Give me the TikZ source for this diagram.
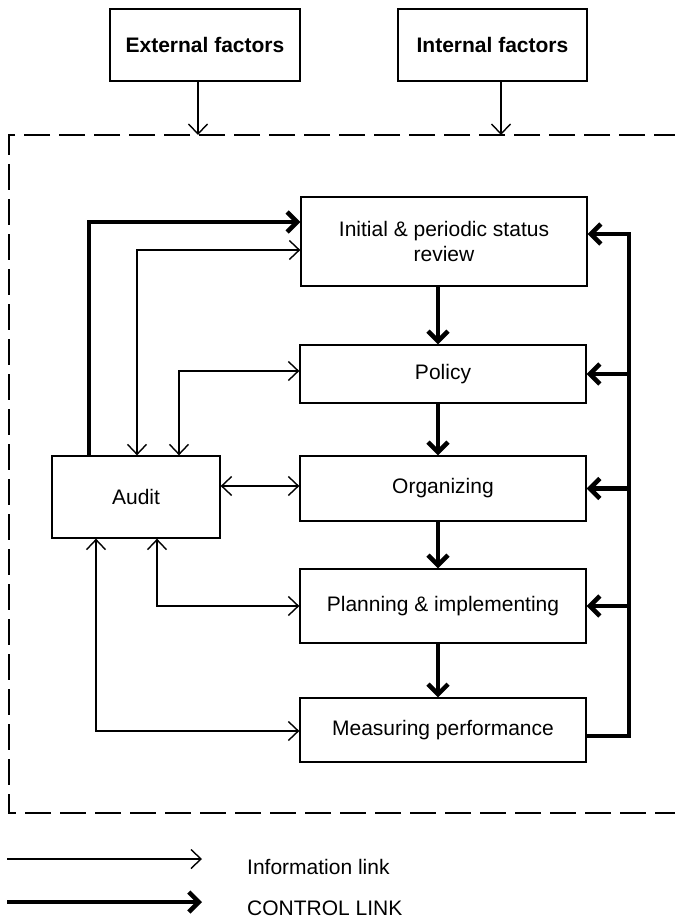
\documentclass[tikz,border=0pt]{standalone}
\usepackage{fontspec}
\setmainfont{Liberation Sans}
\usetikzlibrary{arrows.meta}

\begin{document}
\begin{tikzpicture}[x=1pt,y=-1pt,
  every node/.style={font=\fontsize{21}{25}\selectfont},
  box/.style={draw, line width=1.3pt, rectangle, align=center, inner sep=2pt},
  infotip/.tip={Straight Barb[length=10pt,width=19pt]},
  ctrltip/.tip={Straight Barb[length=10pt,width=20pt]},
  info/.style={line width=1.4pt, -infotip},
  twoway/.style={line width=1.4pt, infotip-infotip},
  ctrl/.style={line width=4.5pt, -ctrltip},
  ctrlline/.style={line width=4.5pt},
  frame/.style={line width=2pt, dash pattern=on 26pt off 9pt}
]
\useasboundingbox (0,0) rectangle (674,920);

% factor boxes above the boundary
\node[box, minimum width=190pt, minimum height=72pt, font=\fontsize{21}{25}\selectfont\bfseries] (ext) at (205,45) {External factors};
\node[box, minimum width=189pt, minimum height=72pt, font=\fontsize{21}{25}\selectfont\bfseries] (int) at (492.5,45) {Internal factors};

% organisational boundary (open to the right)
\draw[frame] (680,135) -- (9,135) -- (9,813) -- (680,813);
\coordinate (extin) at (198,135);
\coordinate (intin) at (501,135);
\draw[info] (ext.south -| extin) -- (extin);
\draw[info] (int.south -| intin) -- (intin);

% main chain
\node[box, minimum width=286pt, minimum height=89pt] (init) at (444,241.5) {Initial \& periodic status\\review};
\node[box, minimum width=286pt, minimum height=58pt] (policy) at (443,374) {Policy};
\node[box, minimum width=286pt, minimum height=65pt] (org) at (443,488.5) {Organizing};
\node[box, minimum width=286pt, minimum height=74pt] (plan) at (443,606) {Planning \& implementing};
\node[box, minimum width=286pt, minimum height=64pt] (meas) at (443,730) {Measuring performance};
\node[box, minimum width=168pt, minimum height=82pt] (audit) at (136,497) {Audit};

\coordinate (spine) at (438,0);
\draw[ctrl] (init.south -| spine) -- (policy.north -| spine);
\draw[ctrl] (policy.south -| spine) -- (org.north -| spine);
\draw[ctrl] (org.south -| spine) -- (plan.north -| spine);
\draw[ctrl] (plan.south -| spine) -- (meas.north -| spine);

% control feedback bus on the right
\coordinate (busbot) at (629,736);
\coordinate (bustop) at (629,234);
\draw[ctrl, line join=miter] (meas.east |- busbot) -- (busbot) -- (bustop) -- (init.east |- bustop);
\draw[ctrl] (bustop |- policy.east) -- (policy.east);
\draw[ctrl] (bustop |- org.east) -- (org.east);
\draw[ctrl] (bustop |- plan.east) -- (plan.east);

% audit links
\coordinate (a1) at (89,222);
\coordinate (a2) at (137,250);
\coordinate (a3) at (179,371);
\coordinate (a4) at (0,486);
\coordinate (a5) at (96,731);
\coordinate (a6) at (157,606);
\draw[ctrl, line join=miter] (audit.north -| a1) |- (init.west |- a1);
\draw[twoway] (audit.north -| a2) |- (init.west |- a2);
\draw[twoway] (audit.north -| a3) |- (policy.west |- a3);
\draw[twoway] (audit.east |- a4) -- (org.west |- a4);
\draw[twoway] (audit.south -| a5) |- (meas.west |- a5);
\draw[twoway] (audit.south -| a6) |- (plan.west |- a6);

% legend
\coordinate (l1a) at (7,859);
\coordinate (l1b) at (202,859);
\coordinate (l2a) at (7,902);
\coordinate (l2b) at (202,902);
\draw[info] (l1a) -- (l1b);
\draw[ctrl] (l2a) -- (l2b);
\node[anchor=west, inner sep=0pt] (l1t) at (247,867) {Information link};
\node[anchor=west, inner sep=0pt] (l2t) at (247,908) {CONTROL LINK};
\end{tikzpicture}
\end{document}
